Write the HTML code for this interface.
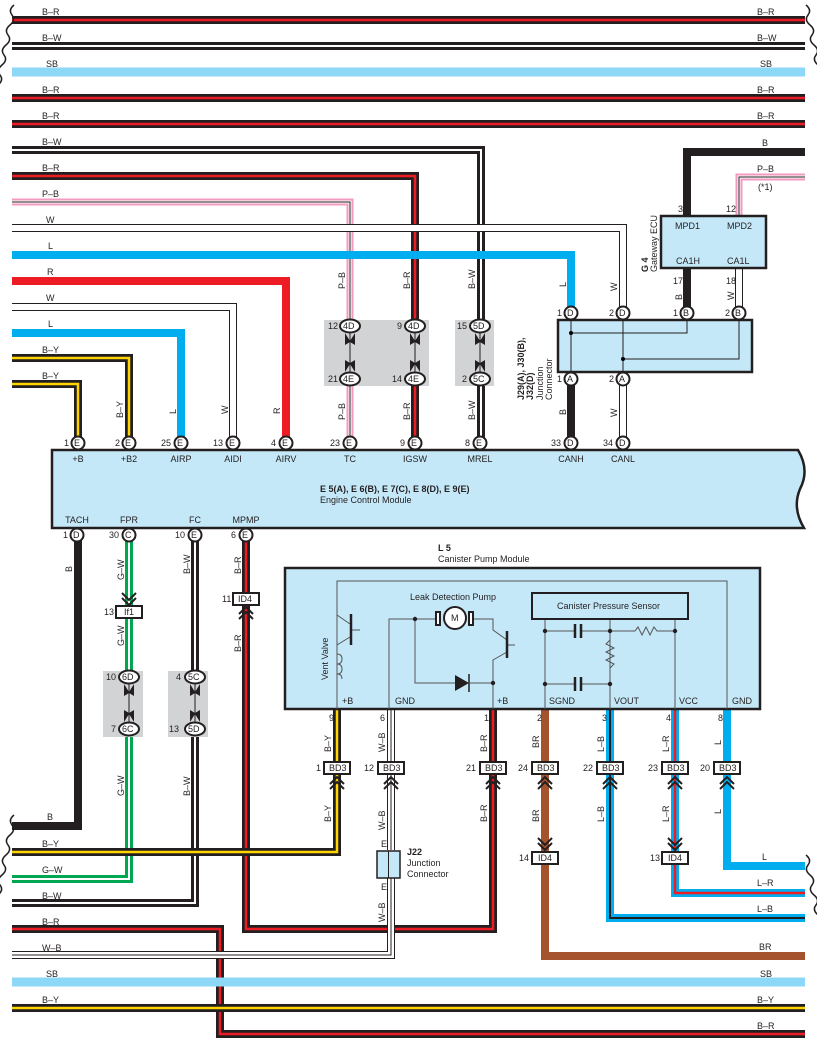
<!DOCTYPE html>
<html><head><meta charset="utf-8"><style>
html,body{margin:0;padding:0;background:#fff}
svg{display:block}
text{font-family:"Liberation Sans",sans-serif;font-size:9px;fill:#231f20}
.o{fill:none;stroke:#231f20;stroke-width:8;stroke-linejoin:miter}
.rs{fill:none;stroke:#ed1c24;stroke-width:2.5}
.ws{fill:none;stroke:#fff;stroke-width:2}
.ys{fill:none;stroke:#ffd400;stroke-width:2.5}
.ks{fill:none;stroke:#231f20;stroke-width:2}
.ww{fill:none;stroke:#fff;stroke-width:6}
.sb{fill:none;stroke:#8dd7f7;stroke-width:9}
.L{fill:none;stroke:#00aeef;stroke-width:8}
.R{fill:none;stroke:#ed1c24;stroke-width:8}
.G{fill:none;stroke:#00a650;stroke-width:8}
.BR{fill:none;stroke:#a5522f;stroke-width:8}
.P{fill:none;stroke:#f49ac1;stroke-width:7}
.th{fill:none;stroke:#231f20;stroke-width:1}
.gr{fill:none;stroke:#555;stroke-width:1}
.pin{fill:#fff;stroke:#231f20;stroke-width:2}
.gbox{fill:#d1d3d4}
.box{fill:#c5e8f8;stroke:#231f20;stroke-width:2.5}
</style></head><body>
<svg width="817" height="1056" viewBox="0 0 817 1056" xmlns="http://www.w3.org/2000/svg">
<polyline class="o" points="12,20 805,20"/><polyline class="rs" points="12,20 805,20"/>
<polyline class="o" points="12,46 805,46"/><polyline class="ws" points="12,46 805,46"/>
<polyline class="sb" points="12,72 805,72"/>
<polyline class="o" points="12,98 805,98"/><polyline class="rs" points="12,98 805,98"/>
<polyline class="o" points="12,124 805,124"/><polyline class="rs" points="12,124 805,124"/>
<polyline class="o" points="12,150 481,150 481,326"/><polyline class="ws" points="12,150 481,150 481,326"/>
<polyline class="o" points="481,379 481,443"/><polyline class="ws" points="481,379 481,443"/>
<polyline class="o" points="12,176 415,176 415,326"/><polyline class="rs" points="12,176 415,176 415,326"/>
<polyline class="o" points="415,379 415,443"/><polyline class="rs" points="415,379 415,443"/>
<polyline class="P" points="12,202 350,202 350,326"/><polyline class="ww" style="stroke-width:3" points="12,202 350,202 350,326"/><polyline class="th" points="12,202 350,202 350,326"/>
<polyline class="P" points="350,379 350,443"/><polyline class="ww" style="stroke-width:3" points="350,379 350,443"/><polyline class="th" points="350,379 350,443"/>
<polyline class="o" points="12,228 623,228 623,313"/><polyline class="ww" points="12,228 623,228 623,313"/>
<polyline class="L" points="12,255 571,255 571,313"/>
<polyline class="R" points="12,281 286,281 286,443"/>
<polyline class="o" points="12,307 233,307 233,443"/><polyline class="ww" points="12,307 233,307 233,443"/>
<polyline class="L" points="12,333 181,333 181,443"/>
<polyline class="o" points="12,358 129,358 129,443"/><polyline class="ys" points="12,358 129,358 129,443"/>
<polyline class="o" points="12,384 78,384 78,443"/><polyline class="ys" points="12,384 78,384 78,443"/>
<polyline class="o" points="571,379 571,443"/>
<polyline class="o" points="623,379 623,443"/><polyline class="ww" points="623,379 623,443"/>
<polyline class="o" points="805,152 687,152 687,216"/>
<polyline class="P" points="805,177 739,177 739,216"/><polyline class="ww" style="stroke-width:3" points="805,177 739,177 739,216"/><polyline class="th" points="805,177 739,177 739,216"/>
<polyline class="o" points="687,268 687,313"/>
<polyline class="o" points="739,268 739,313"/><polyline class="ww" points="739,268 739,313"/>
<rect class="box" x="661" y="216" width="105" height="52"/>
<text x="675" y="229">MPD1</text><text x="727" y="229">MPD2</text>
<text x="676" y="264">CA1H</text><text x="727" y="264">CA1L</text>
<text x="678" y="212">3</text><text x="726" y="212">12</text>
<text x="673" y="284">17</text><text x="726" y="284">18</text>
<text x="762" y="146">B</text><text x="757" y="172">P–B</text><text x="758" y="190">(*1)</text>
<text transform="translate(648,272) rotate(-90)" font-weight="bold">G 4</text>
<text transform="translate(657,272) rotate(-90)">Gateway ECU</text>
<rect class="box" x="558" y="320" width="194" height="52"/>
<polyline class="th" points="571,313 571,379"/><polyline class="th" points="623,313 623,379"/>
<polyline class="th" points="571,333 687,333 687,313"/><polyline class="th" points="623,359 739,359 739,313"/>
<circle cx="571" cy="333" r="2"/><circle cx="623" cy="359" r="2"/>
<text transform="translate(524,400) rotate(-90)" font-weight="bold">J29(A), J30(B),</text>
<text transform="translate(533,400) rotate(-90)" font-weight="bold">J32(D)</text>
<text transform="translate(543,400) rotate(-90)">Junction</text>
<text transform="translate(552,400) rotate(-90)">Connector</text>
<rect class="gbox" x="324" y="320" width="105" height="66"/>
<rect class="gbox" x="455" y="320" width="39" height="66"/>
<g class="th">
<line x1="350" y1="333" x2="350" y2="372"/><line x1="415" y1="333" x2="415" y2="372"/><line x1="480" y1="333" x2="480" y2="372"/>
</g>
<g fill="#231f20">
<path d="M345,333 L350,341 L355,333 L355,345 L350,342 L345,345Z"/><path d="M345,372 L350,364 L355,372 L355,360 L350,363 L345,360Z"/>
<path d="M410,333 L415,341 L420,333 L420,345 L415,342 L410,345Z"/><path d="M410,372 L415,364 L420,372 L420,360 L415,363 L410,360Z"/>
<path d="M475,333 L480,341 L485,333 L485,345 L480,342 L475,345Z"/><path d="M475,372 L480,364 L485,372 L485,360 L480,363 L475,360Z"/>
</g>
<g>
<ellipse class="pin" cx="350" cy="326" rx="10" ry="6.5"/><text x="343" y="329">4D</text><text x="328" y="329">12</text>
<ellipse class="pin" cx="350" cy="379" rx="10" ry="6.5"/><text x="343" y="382">4E</text><text x="328" y="382">21</text>
<ellipse class="pin" cx="415" cy="326" rx="10" ry="6.5"/><text x="408" y="329">4D</text><text x="397" y="329">9</text>
<ellipse class="pin" cx="415" cy="379" rx="10" ry="6.5"/><text x="408" y="382">4E</text><text x="392" y="382">14</text>
<ellipse class="pin" cx="480" cy="326" rx="10" ry="6.5"/><text x="473" y="329">5D</text><text x="457" y="329">15</text>
<ellipse class="pin" cx="480" cy="379" rx="10" ry="6.5"/><text x="473" y="382">5C</text><text x="462" y="382">2</text>
</g>
<g>
<circle class="pin" cx="571" cy="313" r="6.5"/><text x="567" y="316">D</text><text x="557" y="316">1</text>
<circle class="pin" cx="623" cy="313" r="6.5"/><text x="619" y="316">D</text><text x="609" y="316">2</text>
<circle class="pin" cx="687" cy="313" r="6.5"/><text x="683" y="316">B</text><text x="673" y="316">1</text>
<circle class="pin" cx="739" cy="313" r="6.5"/><text x="735" y="316">B</text><text x="725" y="316">2</text>
<circle class="pin" cx="571" cy="379" r="6.5"/><text x="567" y="382">A</text><text x="557" y="382">1</text>
<circle class="pin" cx="623" cy="379" r="6.5"/><text x="619" y="382">A</text><text x="609" y="382">2</text>
</g>
<path class="box" d="M52,450 L798,450 Q810,470 800,489 Q792,508 804,528 L52,528 Z"/>
<g>
<circle class="pin" cx="78" cy="443" r="6.5"/><text x="74" y="446">E</text><text x="64" y="446">1</text>
<circle class="pin" cx="129" cy="443" r="6.5"/><text x="125" y="446">E</text><text x="115" y="446">2</text>
<circle class="pin" cx="181" cy="443" r="6.5"/><text x="177" y="446">E</text><text x="161" y="446">25</text>
<circle class="pin" cx="233" cy="443" r="6.5"/><text x="229" y="446">E</text><text x="213" y="446">13</text>
<circle class="pin" cx="286" cy="443" r="6.5"/><text x="282" y="446">E</text><text x="271" y="446">4</text>
<circle class="pin" cx="350" cy="443" r="6.5"/><text x="346" y="446">E</text><text x="330" y="446">23</text>
<circle class="pin" cx="415" cy="443" r="6.5"/><text x="411" y="446">E</text><text x="400" y="446">9</text>
<circle class="pin" cx="480" cy="443" r="6.5"/><text x="476" y="446">E</text><text x="465" y="446">8</text>
<circle class="pin" cx="571" cy="443" r="6.5"/><text x="567" y="446">D</text><text x="551" y="446">33</text>
<circle class="pin" cx="623" cy="443" r="6.5"/><text x="619" y="446">D</text><text x="603" y="446">34</text>
</g>
<g text-anchor="middle">
<text x="78" y="462">+B</text><text x="129" y="462">+B2</text><text x="181" y="462">AIRP</text><text x="233" y="462">AIDI</text><text x="286" y="462">AIRV</text><text x="350" y="462">TC</text><text x="415" y="462">IGSW</text><text x="480" y="462">MREL</text><text x="571" y="462">CANH</text><text x="623" y="462">CANL</text>
<text x="77" y="523">TACH</text><text x="129" y="523">FPR</text><text x="195" y="523">FC</text><text x="246" y="523">MPMP</text>
</g>
<text x="320" y="492" font-weight="bold">E 5(A), E 6(B), E 7(C), E 8(D), E 9(E)</text>
<text x="320" y="503">Engine Control Module</text>
<g>
<text x="42" y="15">B–R</text><text x="42" y="41">B–W</text><text x="46" y="67">SB</text><text x="42" y="93">B–R</text><text x="42" y="119">B–R</text><text x="42" y="145">B–W</text><text x="42" y="171">B–R</text><text x="42" y="197">P–B</text><text x="46" y="223">W</text><text x="48" y="249">L</text><text x="47" y="275">R</text><text x="46" y="301">W</text><text x="48" y="327">L</text><text x="42" y="353">B–Y</text><text x="42" y="379">B–Y</text>
<text x="757" y="15">B–R</text><text x="757" y="41">B–W</text><text x="760" y="67">SB</text><text x="757" y="93">B–R</text><text x="757" y="119">B–R</text>
</g>
<g>
<text transform="translate(123,418) rotate(-90)">B–Y</text><text transform="translate(176,414) rotate(-90)">L</text><text transform="translate(228,414) rotate(-90)">W</text><text transform="translate(280,414) rotate(-90)">R</text>
<text transform="translate(345,420) rotate(-90)">P–B</text><text transform="translate(410,420) rotate(-90)">B–R</text><text transform="translate(475,420) rotate(-90)">B–W</text>
<text transform="translate(345,289) rotate(-90)">P–B</text><text transform="translate(410,289) rotate(-90)">B–R</text><text transform="translate(475,289) rotate(-90)">B–W</text>
<text transform="translate(566,287) rotate(-90)">L</text><text transform="translate(617,291) rotate(-90)">W</text>
<text transform="translate(566,415) rotate(-90)">B</text><text transform="translate(617,417) rotate(-90)">W</text>
<text transform="translate(682,300) rotate(-90)">B</text><text transform="translate(734,300) rotate(-90)">W</text>
</g>
<polyline class="o" points="78,535 78,826 12,826"/>
<polyline class="G" points="129,535 129,606"/><polyline class="ws" points="129,535 129,606"/>
<polyline class="G" points="129,618 129,677"/><polyline class="ws" points="129,618 129,677"/>
<polyline class="G" points="129,729 129,879 12,879"/><polyline class="ws" points="129,729 129,879 12,879"/>
<polyline class="o" points="195,535 195,677"/><polyline class="ws" points="195,535 195,677"/>
<polyline class="o" points="195,729 195,903 12,903"/><polyline class="ws" points="195,729 195,903 12,903"/>
<polyline class="o" points="246,535 246,593"/><polyline class="rs" points="246,535 246,593"/>
<polyline class="o" points="246,606 246,929 493,929 493,768"/><polyline class="rs" points="246,606 246,929 493,929 493,768"/>
<polyline class="o" points="12,929 220,929 220,1034 805,1034"/><polyline class="rs" points="12,929 220,929 220,1034 805,1034"/>
<polyline class="o" points="12,955 391,955 391,878"/><polyline class="ww" points="12,955 391,955 391,878"/><polyline class="th" points="12,955 391,955 391,878"/>
<polyline class="o" points="391,850 391,768"/><polyline class="ww" points="391,850 391,768"/><polyline class="th" points="391,850 391,768"/>
<polyline class="sb" points="12,982 805,982"/>
<polyline class="o" points="12,1008 805,1008"/><polyline class="ys" points="12,1008 805,1008"/>
<polyline class="o" points="337,709 337,852 12,852"/><polyline class="ys" points="337,709 337,852 12,852"/>
<polyline class="o" points="493,709 493,768"/><polyline class="rs" points="493,709 493,768"/>
<polyline class="o" points="391,709 391,768"/><polyline class="ww" points="391,709 391,768"/><polyline class="th" points="391,709 391,768"/>
<polyline class="BR" points="545,709 545,956 805,956"/>
<polyline class="L" points="610,709 610,918 805,918"/><polyline class="ks" points="610,709 610,918 805,918"/>
<polyline class="L" points="675,709 675,893 805,893"/><polyline class="rs" points="675,709 675,893 805,893"/>
<polyline class="L" points="727,709 727,866 805,866"/>
<rect class="gbox" x="103" y="671" width="40" height="66"/>
<rect class="gbox" x="168" y="671" width="40" height="66"/>
<line class="th" x1="129" y1="684" x2="129" y2="722"/><line class="th" x1="195" y1="684" x2="195" y2="722"/>
<g fill="#231f20">
<path d="M124,684 L129,692 L134,684 L134,696 L129,693 L124,696Z"/><path d="M124,722 L129,714 L134,722 L134,710 L129,713 L124,710Z"/>
<path d="M190,684 L195,692 L200,684 L200,696 L195,693 L190,696Z"/><path d="M190,722 L195,714 L200,722 L200,710 L195,713 L190,710Z"/>
</g>
<ellipse class="pin" cx="129" cy="677" rx="10" ry="6.5"/><text x="122" y="680">6D</text><text x="106" y="680">10</text>
<ellipse class="pin" cx="129" cy="729" rx="10" ry="6.5"/><text x="122" y="732">6C</text><text x="111" y="732">7</text>
<ellipse class="pin" cx="195" cy="677" rx="10" ry="6.5"/><text x="188" y="680">5C</text><text x="176" y="680">4</text>
<ellipse class="pin" cx="195" cy="729" rx="10" ry="6.5"/><text x="188" y="732">5D</text><text x="169" y="732">13</text>
<circle class="pin" cx="77" cy="535" r="6.5"/><text x="73" y="538">D</text><text x="63" y="538">1</text>
<circle class="pin" cx="129" cy="535" r="6.5"/><text x="125" y="538">C</text><text x="109" y="538">30</text>
<circle class="pin" cx="195" cy="535" r="6.5"/><text x="191" y="538">E</text><text x="175" y="538">10</text>
<circle class="pin" cx="246" cy="535" r="6.5"/><text x="242" y="538">E</text><text x="231" y="538">6</text>
<path d="M122,593 L129,600 L136,593 M122,598 L129,605 L136,598" class="th" style="stroke-width:2"/>
<rect x="116" y="606" width="26" height="12" fill="#fff" stroke="#231f20" stroke-width="2"/><text x="124" y="615">If1</text><text x="104" y="615">13</text>
<rect x="233" y="593" width="26" height="12" fill="#fff" stroke="#231f20" stroke-width="2"/><text x="238" y="602">ID4</text><text x="222" y="602">11</text>
<path d="M239,614 L246,607 L253,614 M239,619 L246,612 L253,619" class="th" style="stroke-width:2"/>
<text transform="translate(72,572) rotate(-90)">B</text>
<text transform="translate(124,580) rotate(-90)">G–W</text><text transform="translate(124,646) rotate(-90)">G–W</text><text transform="translate(124,796) rotate(-90)">G–W</text>
<text transform="translate(190,574) rotate(-90)">B–W</text><text transform="translate(190,796) rotate(-90)">B–W</text>
<text transform="translate(241,574) rotate(-90)">B–R</text><text transform="translate(241,652) rotate(-90)">B–R</text>
<rect class="box" x="285" y="568" width="475" height="141"/>
<text x="438" y="551" font-weight="bold">L 5</text><text x="438" y="562">Canister Pump Module</text>
<g class="gr">
<polyline points="337,709 337,581 727,581 727,709"/>
<polyline points="337,615 350,624"/><polyline points="350,637 337,645 337,654"/><line x1="351" y1="630" x2="360" y2="630"/>
<path d="M337,654 q5,0 5,5 q0,5 -5,5 q5,0 5,5 q0,5 -5,5 q5,0 5,5 M337,679 L337,709"/>
<polyline points="389,709 389,619 436,619"/>
<polyline points="415,619 415,683 455,683"/>
<polyline points="470,683 493,683"/>
<polyline points="472,619 493,619 493,630 507,640"/>
<polyline points="507,652 493,660 493,709"/><line x1="507" y1="645" x2="515" y2="645"/>
<line x1="545" y1="619" x2="545" y2="709"/><line x1="610" y1="619" x2="610" y2="709"/><line x1="675" y1="619" x2="675" y2="709"/>
<line x1="545" y1="631" x2="575" y2="631"/><line x1="581" y1="631" x2="610" y2="631"/>
<line x1="545" y1="684" x2="575" y2="684"/><line x1="581" y1="684" x2="610" y2="684"/>
<polyline points="610,631 635,631 638,627 642,635 646,627 650,635 654,627 657,631 675,631"/>
<polyline points="610,640 606,644 614,648 606,652 614,656 606,660 614,664 610,668"/>
</g>
<g stroke="#231f20" stroke-width="2.5">
<line x1="351" y1="614" x2="351" y2="645"/><line x1="507" y1="631" x2="507" y2="658"/>
<line x1="575" y1="624" x2="575" y2="638"/><line x1="581" y1="624" x2="581" y2="638"/>
<line x1="575" y1="677" x2="575" y2="691"/><line x1="581" y1="677" x2="581" y2="691"/>
</g>
<path d="M455,675 L455,691 L469,683Z" fill="#231f20"/><path d="M469,674 L469,692" stroke="#231f20" stroke-width="1.5"/>
<g fill="#231f20"><circle cx="415" cy="619" r="2.2"/><circle cx="493" cy="683" r="2.2"/><circle cx="545" cy="631" r="2.2"/><circle cx="610" cy="631" r="2.2"/><circle cx="675" cy="631" r="2.2"/><circle cx="545" cy="684" r="2.2"/><circle cx="610" cy="684" r="2.2"/></g>
<rect x="436" y="612" width="4" height="13" fill="#fff" stroke="#231f20" stroke-width="2"/><rect x="469" y="612" width="4" height="13" fill="#fff" stroke="#231f20" stroke-width="2"/>
<circle cx="455" cy="618" r="11" fill="#fff" stroke="#231f20" stroke-width="2"/><text x="451" y="621">M</text>
<text x="410" y="600">Leak Detection Pump</text>
<rect x="532" y="593" width="156" height="26" fill="#c5e8f8" stroke="#231f20" stroke-width="2"/>
<text x="557" y="609">Canister Pressure Sensor</text>
<text transform="translate(328,680) rotate(-90)">Vent Valve</text>
<g><text x="342" y="704">+B</text><text x="395" y="704">GND</text><text x="497" y="704">+B</text><text x="549" y="704">SGND</text><text x="614" y="704">VOUT</text><text x="679" y="704">VCC</text><text x="732" y="704">GND</text></g>
<g><text x="329" y="721">9</text><text x="380" y="721">6</text><text x="484" y="721">1</text><text x="537" y="721">2</text><text x="602" y="721">3</text><text x="666" y="721">4</text><text x="718" y="721">8</text></g>
<g>
<text transform="translate(331,752) rotate(-90)">B–Y</text><text transform="translate(385,752) rotate(-90)">W–B</text><text transform="translate(487,752) rotate(-90)">B–R</text><text transform="translate(539,748) rotate(-90)">BR</text><text transform="translate(604,752) rotate(-90)">L–B</text><text transform="translate(669,752) rotate(-90)">L–R</text><text transform="translate(721,745) rotate(-90)">L</text>
<text transform="translate(331,822) rotate(-90)">B–Y</text><text transform="translate(385,830) rotate(-90)">W–B</text><text transform="translate(487,822) rotate(-90)">B–R</text><text transform="translate(539,822) rotate(-90)">BR</text><text transform="translate(604,822) rotate(-90)">L–B</text><text transform="translate(669,822) rotate(-90)">L–R</text><text transform="translate(721,814) rotate(-90)">L</text>
<text transform="translate(385,922) rotate(-90)">W–B</text>
</g>
<g fill="#fff" stroke="#231f20" stroke-width="2">
<rect x="324" y="762" width="26" height="12"/><rect x="378" y="762" width="26" height="12"/><rect x="480" y="762" width="26" height="12"/><rect x="532" y="762" width="26" height="12"/><rect x="597" y="762" width="26" height="12"/><rect x="662" y="762" width="26" height="12"/><rect x="714" y="762" width="26" height="12"/>
<rect x="532" y="852" width="26" height="12"/><rect x="662" y="852" width="26" height="12"/>
</g>
<g><text x="329" y="771">BD3</text><text x="383" y="771">BD3</text><text x="485" y="771">BD3</text><text x="537" y="771">BD3</text><text x="602" y="771">BD3</text><text x="667" y="771">BD3</text><text x="719" y="771">BD3</text>
<text x="316" y="771">1</text><text x="364" y="771">12</text><text x="466" y="771">21</text><text x="518" y="771">24</text><text x="583" y="771">22</text><text x="648" y="771">23</text><text x="700" y="771">20</text>
<text x="538" y="861">ID4</text><text x="668" y="861">ID4</text><text x="519" y="861">14</text><text x="650" y="861">13</text></g>
<g class="th" style="stroke-width:2">
<path d="M330,784 L337,777 L344,784 M330,789 L337,782 L344,789"/><path d="M384,784 L391,777 L398,784 M384,789 L391,782 L398,789"/><path d="M486,784 L493,777 L500,784 M486,789 L493,782 L500,789"/><path d="M538,784 L545,777 L552,784 M538,789 L545,782 L552,789"/><path d="M603,784 L610,777 L617,784 M603,789 L610,782 L617,789"/><path d="M668,784 L675,777 L682,784 M668,789 L675,782 L682,789"/><path d="M720,784 L727,777 L734,784 M720,789 L727,782 L734,789"/>
<path d="M538,838 L545,845 L552,838 M538,843 L545,850 L552,843"/><path d="M668,838 L675,845 L682,838 M668,843 L675,850 L682,843"/>
</g>
<rect x="377" y="851" width="23" height="27" fill="#c5e8f8" stroke="#231f20" stroke-width="1.5"/><line x1="388.5" y1="851" x2="388.5" y2="878" stroke="#231f20"/>
<text x="381" y="847">E</text><text x="381" y="890">E</text>
<text x="407" y="855" font-weight="bold">J22</text><text x="407" y="866">Junction</text><text x="407" y="877">Connector</text>
<g><text x="47" y="820">B</text><text x="42" y="847">B–Y</text><text x="42" y="873">G–W</text><text x="42" y="899">B–W</text><text x="42" y="925">B–R</text><text x="42" y="951">W–B</text><text x="46" y="977">SB</text><text x="42" y="1003">B–Y</text>
<text x="762" y="860">L</text><text x="757" y="886">L–R</text><text x="757" y="912">L–B</text><text x="759" y="950">BR</text><text x="760" y="977">SB</text><text x="757" y="1003">B–Y</text><text x="757" y="1029">B–R</text></g>
<g fill="none" stroke="#231f20" stroke-width="1.5">
<path d="M14,5 q-6,5 -2,10 q4,5 -2,10 q-6,5 -2,10 q4,5 -2,10 q-6,5 -2,10 q4,5 -2,10 q-6,5 -2,10 q4,5 -2,10 q-6,5 -2,10 q4,5 -2,10 q-6,5 -2,10 q4,5 -2,10 q-6,5 -2,10 q4,5 -2,10 q-6,5 -2,10 q4,5 -2,10 q-6,5 -2,10 q4,5 -2,10 q-6,5 -2,10 q4,5 -2,10 q-6,5 -2,10 q4,5 -2,10 q-6,5 -2,10 q4,5 -2,10 q-6,5 -2,10 q4,5 -2,10 q-6,5 -2,10 q4,5 -2,10 q-6,5 -2,10 q4,5 -2,10 q-6,5 -2,10 q4,5 -2,10 q-6,5 -2,10 q4,5 -2,10 q-6,5 -2,10 q4,5 -2,10 q-6,5 -2,10 q4,5 -2,10 q-6,5 -2,10 q4,5 -2,10"/>
<path d="M14,815 q-6,5 -2,10 q4,5 -2,10 q-6,5 -2,10 q4,5 -2,10 q-6,5 -2,10 q4,5 -2,10 q-6,5 -2,10 q4,5 -2,10 q-6,5 -2,10 q4,5 -2,10 q-6,5 -2,10 q4,5 -2,10 q-6,5 -2,10 q4,5 -2,10 q-6,5 -2,10 q4,5 -2,10 q-6,5 -2,10 q4,5 -2,10 q-6,5 -2,10 q4,5 -2,10"/>
<path d="M806,5 q6,5 2,10 q-4,5 2,10 q6,5 2,10 q-4,5 2,10 q6,5 2,10 q-4,5 2,10 q6,5 2,10 q-4,5 2,10 q6,5 2,10 q-4,5 2,10 q6,5 2,10 q-4,5 2,10 q6,5 2,10 q-4,5 2,10 q6,5 2,10 q-4,5 2,10 q6,5 2,10 q-4,5 2,10"/>
<path d="M806,855 q6,5 2,10 q-4,5 2,10 q6,5 2,10 q-4,5 2,10 q6,5 2,10 q-4,5 2,10 q6,5 2,10 q-4,5 2,10 q6,5 2,10 q-4,5 2,10 q6,5 2,10 q-4,5 2,10 q6,5 2,10 q-4,5 2,10 q6,5 2,10 q-4,5 2,10 q6,5 2,10 q-4,5 2,10 q6,5 2,10"/>
</g>
</svg>
</body></html>
